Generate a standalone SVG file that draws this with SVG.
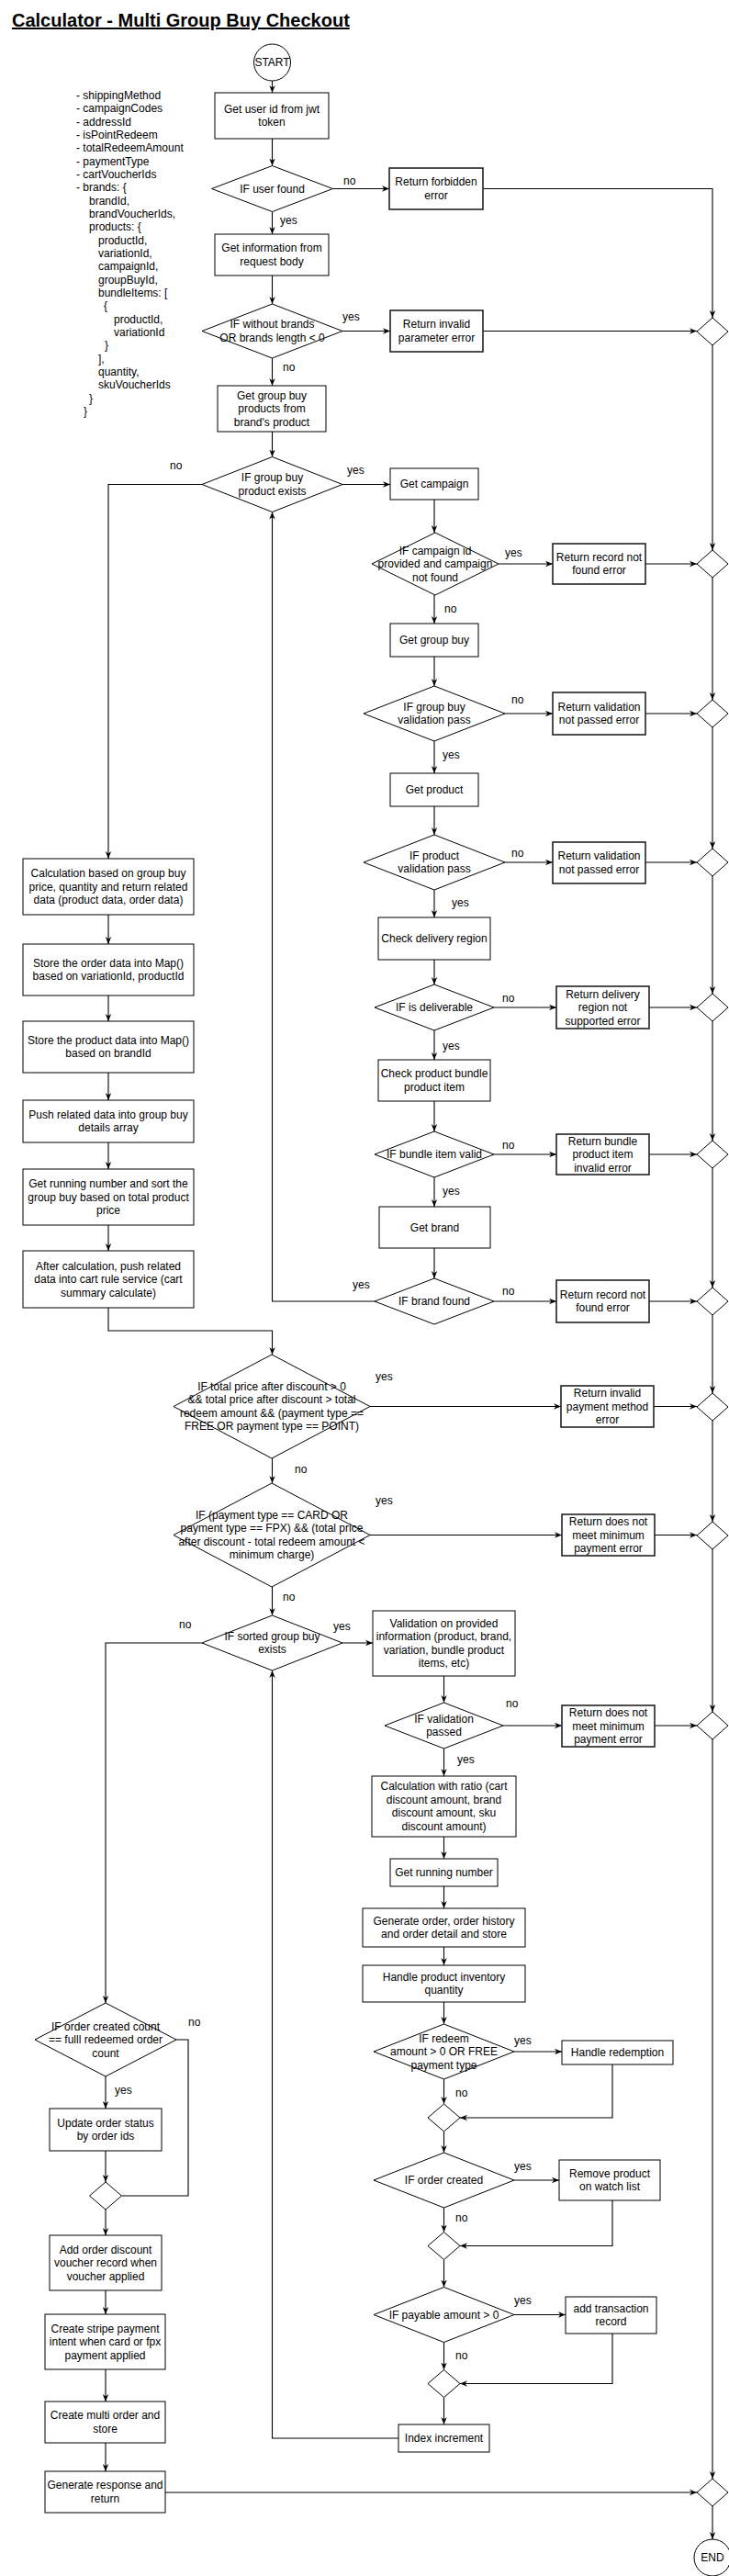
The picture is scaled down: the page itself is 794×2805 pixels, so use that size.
<svg xmlns="http://www.w3.org/2000/svg" width="794" height="2805" viewBox="0 0 794 2805">
<style>
.bg{fill:#fff}
.n rect,.n polygon,.n circle{fill:#fff;stroke:#000;stroke-width:1}
.e rect{stroke-width:1.6;stroke:#222}
text{font-family:"Liberation Sans",Arial,Helvetica,sans-serif;font-size:12px;fill:#000}
.c{text-anchor:middle}
.title{font-size:20px;font-weight:bold;text-decoration:underline}
.conn path{fill:none;stroke:#000;stroke-width:1.1}
.conn path.a{marker-end:url(#arr)}
</style>
<defs>
<marker id="arr" viewBox="0 0 10 10" refX="10" refY="5" markerWidth="8" markerHeight="8" orient="auto" markerUnits="userSpaceOnUse">
<path d="M0,1 L10,5 L0,9 L3,5 z" fill="#000"/>
</marker>
</defs>
<rect class="bg" x="0" y="0" width="794" height="2805"/>
<text class="title" x="13" y="29">Calculator - Multi Group Buy Checkout</text>

<g id="request-body">
<text x="83" y="108">- shippingMethod</text>
<text x="83" y="122.3">- campaignCodes</text>
<text x="83" y="136.7">- addressId</text>
<text x="83" y="151">- isPointRedeem</text>
<text x="83" y="165.3">- totalRedeemAmount</text>
<text x="83" y="179.7">- paymentType</text>
<text x="83" y="194">- cartVoucherIds</text>
<text x="83" y="208.3">- brands: {</text>
<text x="97" y="222.7">brandId,</text>
<text x="97" y="237">brandVoucherIds,</text>
<text x="97" y="251.3">products: {</text>
<text x="107" y="265.7">productId,</text>
<text x="107" y="280">variationId,</text>
<text x="107" y="294.3">campaignId,</text>
<text x="107" y="308.7">groupBuyId,</text>
<text x="107" y="323">bundleItems: [</text>
<text x="113" y="337.3">{</text>
<text x="124" y="351.7">productId,</text>
<text x="124" y="366">variationId</text>
<text x="114" y="380.3">}</text>
<text x="107" y="394.7">],</text>
<text x="107" y="409">quantity,</text>
<text x="107" y="423.3">skuVoucherIds</text>
<text x="97" y="437.7">}</text>
<text x="91" y="452">}</text>
</g>

<g class="conn" id="connectors">
<path class="a" d="M296.5,88 V101"/>
<path class="a" d="M296.5,151 V180.5"/>
<path class="a" d="M362.5,205.5 H424"/>
<path class="a" d="M296.5,230.5 V255"/>
<path class="a" d="M526,205.5 H776 V346"/>
<path class="a" d="M296.5,300 V331"/>
<path class="a" d="M373,360.5 H425"/>
<path class="a" d="M526,360.5 H759"/>
<path class="a" d="M296.5,390 V420"/>
<path class="a" d="M296.5,470 V497.5"/>
<path class="a" d="M220,527.5 H118 V935"/>
<path class="a" d="M373,527.5 H425"/>
<path class="a" d="M473,544 V580"/>
<path class="a" d="M543,614 H602"/>
<path class="a" d="M703,614 H759"/>
<path class="a" d="M776,376 V599"/>
<path class="a" d="M473,648 V679"/>
<path class="a" d="M473,715 V747"/>
<path class="a" d="M550,777 H602"/>
<path class="a" d="M703,777 H759"/>
<path class="a" d="M776,629 V762"/>
<path class="a" d="M473,807 V842"/>
<path class="a" d="M473,878 V909"/>
<path class="a" d="M550,939 H602"/>
<path class="a" d="M703,939 H759"/>
<path class="a" d="M776,792 V924"/>
<path class="a" d="M473,969 V999"/>
<path class="a" d="M473,1045 V1072"/>
<path class="a" d="M538,1097 H606"/>
<path class="a" d="M707,1097 H759"/>
<path class="a" d="M776,954 V1082"/>
<path class="a" d="M473,1122 V1154"/>
<path class="a" d="M473,1199 V1232"/>
<path class="a" d="M538,1257 H606"/>
<path class="a" d="M707,1257 H759"/>
<path class="a" d="M776,1112 V1242"/>
<path class="a" d="M473,1282 V1314"/>
<path class="a" d="M473,1359 V1392"/>
<path class="a" d="M538,1417 H606"/>
<path class="a" d="M707,1417 H759"/>
<path class="a" d="M776,1272 V1402"/>
<path class="a" d="M408,1417 H296.5 V557.5"/>
<path class="a" d="M118,996 V1028"/>
<path class="a" d="M118,1084 V1112"/>
<path class="a" d="M118,1168 V1198"/>
<path class="a" d="M118,1244 V1273"/>
<path class="a" d="M118,1334 V1362"/>
<path class="a" d="M118,1424 V1449 H296.5 V1475"/>
<path class="a" d="M403,1531.5 H611"/>
<path class="a" d="M712,1531.5 H759"/>
<path class="a" d="M776,1432 V1517"/>
<path class="a" d="M296.5,1588 V1615"/>
<path class="a" d="M403,1671.5 H612"/>
<path class="a" d="M713,1671.5 H759"/>
<path class="a" d="M776,1547 V1657"/>
<path class="a" d="M296.5,1728 V1759"/>
<path class="a" d="M373,1789 H406"/>
<path class="a" d="M220,1789 H115 V2181"/>
<path class="a" d="M483.5,1825 V1854"/>
<path class="a" d="M548,1879 H612"/>
<path class="a" d="M713,1879 H759"/>
<path class="a" d="M776,1687 V1864"/>
<path class="a" d="M483.5,1904 V1934"/>
<path class="a" d="M483.5,2000 V2024"/>
<path class="a" d="M483.5,2054 V2078"/>
<path class="a" d="M483.5,2120 V2140"/>
<path class="a" d="M483.5,2180 V2204"/>
<path class="a" d="M560,2234 H612"/>
<path class="a" d="M667,2248 V2306 H501"/>
<path class="a" d="M483.5,2264 V2291"/>
<path class="a" d="M483.5,2321 V2344"/>
<path class="a" d="M560,2374 H609"/>
<path class="a" d="M667,2396 V2445.5 H501"/>
<path class="a" d="M483.5,2404 V2430.5"/>
<path class="a" d="M483.5,2460.5 V2490.5"/>
<path class="a" d="M560,2520.5 H616"/>
<path class="a" d="M667,2541 V2595.5 H501"/>
<path class="a" d="M483.5,2550.5 V2580.5"/>
<path class="a" d="M483.5,2610.5 V2640"/>
<path class="a" d="M434,2655 H296.5 V1819"/>
<path class="a" d="M776,1894 V2699"/>
<path class="a" d="M115,2261 V2296"/>
<path class="a" d="M115,2342 V2376"/>
<path d="M192,2221 H205 V2391 H132.5"/>
<path class="a" d="M115,2406 V2434"/>
<path class="a" d="M115,2494 V2520"/>
<path class="a" d="M115,2580 V2615"/>
<path class="a" d="M115,2660 V2691"/>
<path class="a" d="M180,2714 H759"/>
<path class="a" d="M776,2729 V2765"/>
</g>

<g id="labels">
<text x="374" y="201">no</text>
<text x="305" y="244">yes</text>
<text x="373" y="349">yes</text>
<text x="308" y="404">no</text>
<text x="185" y="511">no</text>
<text x="378" y="516">yes</text>
<text x="550" y="606">yes</text>
<text x="484" y="667">no</text>
<text x="557" y="766">no</text>
<text x="482" y="826">yes</text>
<text x="557" y="933">no</text>
<text x="492" y="987">yes</text>
<text x="547" y="1091">no</text>
<text x="482" y="1143">yes</text>
<text x="547" y="1251">no</text>
<text x="482" y="1301">yes</text>
<text x="384" y="1403">yes</text>
<text x="547" y="1410">no</text>
<text x="409" y="1503">yes</text>
<text x="321" y="1604">no</text>
<text x="409" y="1638">yes</text>
<text x="308" y="1743">no</text>
<text x="195" y="1773">no</text>
<text x="363" y="1775">yes</text>
<text x="551" y="1859">no</text>
<text x="498" y="1920">yes</text>
<text x="205" y="2206">no</text>
<text x="125" y="2280">yes</text>
<text x="560" y="2226">yes</text>
<text x="496" y="2283">no</text>
<text x="560" y="2363">yes</text>
<text x="496" y="2419">no</text>
<text x="560" y="2509">yes</text>
<text x="496" y="2569">no</text>
</g>

<g id="start" class="n"><circle cx="296.5" cy="68" r="20"/><text class="c" x="296.5" y="72">START</text></g>
<g id="get-user" class="n"><rect x="234" y="101" width="124" height="50"/><text class="c" x="296" y="122.8">Get user id from jwt</text><text class="c" x="296" y="137.3">token</text></g>
<g id="if-user" class="n"><polygon points="296.5,180.5 362.5,205.5 296.5,230.5 230.5,205.5"/><text class="c" x="296.5" y="209.5">IF user found</text></g>
<g id="ret-forbidden" class="n e"><rect x="424" y="183" width="102" height="45"/><text class="c" x="475" y="202.3">Return forbidden</text><text class="c" x="475" y="216.8">error</text></g>
<g id="get-info" class="n"><rect x="234" y="255" width="124" height="45"/><text class="c" x="296" y="274.3">Get information from</text><text class="c" x="296" y="288.8">request body</text></g>
<g id="if-brands" class="n"><polygon points="296.5,331 373,360.5 296.5,390 220,360.5"/><text class="c" x="296.5" y="357.3">IF without brands</text><text class="c" x="296.5" y="371.8">OR brands length &lt; 0</text></g>
<g id="ret-param" class="n e"><rect x="425" y="338" width="101" height="45"/><text class="c" x="475.5" y="357.3">Return invalid</text><text class="c" x="475.5" y="371.8">parameter error</text></g>
<g id="get-gb-products" class="n"><rect x="237" y="420" width="118" height="50"/><text class="c" x="296" y="434.5">Get group buy</text><text class="c" x="296" y="449">products from</text><text class="c" x="296" y="463.5">brand's product</text></g>
<g id="if-gb-exists" class="n"><polygon points="296.5,497.5 373,527.5 296.5,557.5 220,527.5"/><text class="c" x="296.5" y="524.3">IF group buy</text><text class="c" x="296.5" y="538.8">product exists</text></g>
<g id="get-campaign" class="n"><rect x="425" y="510" width="96" height="34"/><text class="c" x="473" y="531">Get campaign</text></g>
<g id="if-campaign" class="n"><polygon points="474,580 543,614 474,648 405,614"/><text class="c" x="474" y="603.5">IF campaign id</text><text class="c" x="474" y="618">provided and campaign</text><text class="c" x="474" y="632.5">not found</text></g>
<g id="ret-record1" class="n e"><rect x="602" y="592" width="101" height="44"/><text class="c" x="652.5" y="610.8">Return record not</text><text class="c" x="652.5" y="625.3">found error</text></g>
<g id="get-group-buy" class="n"><rect x="425" y="679" width="96" height="36"/><text class="c" x="473" y="701">Get group buy</text></g>
<g id="if-gb-valid" class="n"><polygon points="473,747 550,777 473,807 396,777"/><text class="c" x="473" y="773.8">IF group buy</text><text class="c" x="473" y="788.3">validation pass</text></g>
<g id="ret-val1" class="n e"><rect x="602" y="754" width="101" height="46"/><text class="c" x="652.5" y="773.8">Return validation</text><text class="c" x="652.5" y="788.3">not passed error</text></g>
<g id="get-product" class="n"><rect x="425" y="842" width="96" height="36"/><text class="c" x="473" y="864">Get product</text></g>
<g id="if-prod-valid" class="n"><polygon points="473,909 550,939 473,969 396,939"/><text class="c" x="473" y="935.8">IF product</text><text class="c" x="473" y="950.3">validation pass</text></g>
<g id="ret-val2" class="n e"><rect x="602" y="917" width="101" height="45"/><text class="c" x="652.5" y="936.3">Return validation</text><text class="c" x="652.5" y="950.8">not passed error</text></g>
<g id="check-delivery" class="n"><rect x="412" y="999" width="122" height="46"/><text class="c" x="473" y="1026">Check delivery region</text></g>
<g id="if-deliverable" class="n"><polygon points="473,1072 538,1097 473,1122 408,1097"/><text class="c" x="473" y="1101">IF is deliverable</text></g>
<g id="ret-delivery" class="n e"><rect x="606" y="1074" width="101" height="46"/><text class="c" x="656.5" y="1086.5">Return delivery</text><text class="c" x="656.5" y="1101">region not</text><text class="c" x="656.5" y="1115.5">supported error</text></g>
<g id="check-bundle" class="n"><rect x="412" y="1154" width="122" height="45"/><text class="c" x="473" y="1173.3">Check product bundle</text><text class="c" x="473" y="1187.8">product item</text></g>
<g id="if-bundle" class="n"><polygon points="473,1232 538,1257 473,1282 408,1257"/><text class="c" x="473" y="1261">IF bundle item valid</text></g>
<g id="ret-bundle" class="n e"><rect x="606" y="1235" width="101" height="44"/><text class="c" x="656.5" y="1246.5">Return bundle</text><text class="c" x="656.5" y="1261">product item</text><text class="c" x="656.5" y="1275.5">invalid error</text></g>
<g id="get-brand" class="n"><rect x="413" y="1314" width="121" height="45"/><text class="c" x="473.5" y="1340.5">Get brand</text></g>
<g id="if-brand" class="n"><polygon points="473,1392 538,1417 473,1442 408,1417"/><text class="c" x="473" y="1421">IF brand found</text></g>
<g id="ret-record2" class="n e"><rect x="606" y="1394" width="101" height="46"/><text class="c" x="656.5" y="1413.8">Return record not</text><text class="c" x="656.5" y="1428.3">found error</text></g>

<g id="calc-gb" class="n"><rect x="25" y="935" width="186" height="61"/><text class="c" x="118" y="955">Calculation based on group buy</text><text class="c" x="118" y="969.5">price, quantity and return related</text><text class="c" x="118" y="984">data (product data, order data)</text></g>
<g id="store-order" class="n"><rect x="25" y="1028" width="186" height="56"/><text class="c" x="118" y="1052.8">Store the order data into Map()</text><text class="c" x="118" y="1067.3">based on variationId, productId</text></g>
<g id="store-product" class="n"><rect x="25" y="1112" width="186" height="56"/><text class="c" x="118" y="1136.8">Store the product data into Map()</text><text class="c" x="118" y="1151.3">based on brandId</text></g>
<g id="push-data" class="n"><rect x="25" y="1198" width="186" height="46"/><text class="c" x="118" y="1217.8">Push related data into group buy</text><text class="c" x="118" y="1232.3">details array</text></g>
<g id="running-sort" class="n"><rect x="25" y="1273" width="186" height="61"/><text class="c" x="118" y="1293">Get running number and sort the</text><text class="c" x="118" y="1307.5">group buy based on total product</text><text class="c" x="118" y="1322">price</text></g>
<g id="after-calc" class="n"><rect x="25" y="1362" width="186" height="62"/><text class="c" x="118" y="1382.5">After calculation, push related</text><text class="c" x="118" y="1397">data into cart rule service (cart</text><text class="c" x="118" y="1411.5">summary calculate)</text></g>

<g id="if-total" class="n"><polygon points="296,1475 403,1531.5 296,1588 189,1531.5"/><text class="c" x="296" y="1513.8">IF total price after discount &gt; 0</text><text class="c" x="296" y="1528.3">&amp;&amp; total price after discount &gt; total</text><text class="c" x="296" y="1542.8">redeem amount &amp;&amp; (payment type ==</text><text class="c" x="296" y="1557.3">FREE OR payment type == POINT)</text></g>
<g id="ret-paymethod" class="n e"><rect x="611" y="1509" width="101" height="45"/><text class="c" x="661.5" y="1521">Return invalid</text><text class="c" x="661.5" y="1535.5">payment method</text><text class="c" x="661.5" y="1550">error</text></g>
<g id="if-card" class="n"><polygon points="296,1615 403,1671.5 296,1728 189,1671.5"/><text class="c" x="296" y="1653.8">IF (payment type == CARD OR</text><text class="c" x="296" y="1668.3">payment type == FPX) &amp;&amp; (total price</text><text class="c" x="296" y="1682.8">after discount - total redeem amount &lt;</text><text class="c" x="296" y="1697.3">minimum charge)</text></g>
<g id="ret-minpay1" class="n e"><rect x="612" y="1649" width="101" height="45"/><text class="c" x="662.5" y="1661">Return does not</text><text class="c" x="662.5" y="1675.5">meet minimum</text><text class="c" x="662.5" y="1690">payment error</text></g>
<g id="if-sorted" class="n"><polygon points="296.5,1759 373,1789 296.5,1819 220,1789"/><text class="c" x="296.5" y="1785.8">IF sorted group buy</text><text class="c" x="296.5" y="1800.3">exists</text></g>
<g id="validation" class="n"><rect x="406" y="1754" width="155" height="71"/><text class="c" x="483.5" y="1771.8">Validation on provided</text><text class="c" x="483.5" y="1786.3">information (product, brand,</text><text class="c" x="483.5" y="1800.8">variation, bundle product</text><text class="c" x="483.5" y="1815.3">items, etc)</text></g>
<g id="if-val-passed" class="n"><polygon points="483.5,1854 548,1879 483.5,1904 419,1879"/><text class="c" x="483.5" y="1875.8">IF validation</text><text class="c" x="483.5" y="1890.3">passed</text></g>
<g id="ret-minpay2" class="n e"><rect x="612" y="1857" width="101" height="45"/><text class="c" x="662.5" y="1869">Return does not</text><text class="c" x="662.5" y="1883.5">meet minimum</text><text class="c" x="662.5" y="1898">payment error</text></g>
<g id="calc-ratio" class="n"><rect x="405" y="1934" width="157" height="66"/><text class="c" x="483.5" y="1949.3">Calculation with ratio (cart</text><text class="c" x="483.5" y="1963.8">discount amount, brand</text><text class="c" x="483.5" y="1978.3">discount amount, sku</text><text class="c" x="483.5" y="1992.8">discount amount)</text></g>
<g id="get-running" class="n"><rect x="425" y="2024" width="117" height="30"/><text class="c" x="483.5" y="2043">Get running number</text></g>
<g id="gen-order" class="n"><rect x="395" y="2078" width="177" height="42"/><text class="c" x="483.5" y="2095.8">Generate order, order history</text><text class="c" x="483.5" y="2110.3">and order detail and store</text></g>
<g id="inventory" class="n"><rect x="395" y="2140" width="177" height="40"/><text class="c" x="483.5" y="2156.8">Handle product inventory</text><text class="c" x="483.5" y="2171.3">quantity</text></g>
<g id="if-redeem" class="n"><polygon points="483.5,2204 560,2234 483.5,2264 407,2234"/><text class="c" x="483.5" y="2223.5">IF redeem</text><text class="c" x="483.5" y="2238">amount &gt; 0 OR FREE</text><text class="c" x="483.5" y="2252.5">payment type</text></g>
<g id="redemption" class="n"><rect x="612" y="2222" width="121" height="26"/><text class="c" x="672.5" y="2239">Handle redemption</text></g>
<g id="merge1" class="n"><polygon points="483.5,2291 501,2306 483.5,2321 466,2306"/></g>
<g id="if-order-created" class="n"><polygon points="483.5,2344 560,2374 483.5,2404 407,2374"/><text class="c" x="483.5" y="2378">IF order created</text></g>
<g id="watch-list" class="n"><rect x="609" y="2352" width="110" height="44"/><text class="c" x="664" y="2370.8">Remove product</text><text class="c" x="664" y="2385.3">on watch list</text></g>
<g id="merge2" class="n"><polygon points="483.5,2430.5 501,2445.5 483.5,2460.5 466,2445.5"/></g>
<g id="if-payable" class="n"><polygon points="483.5,2490.5 560,2520.5 483.5,2550.5 407,2520.5"/><text class="c" x="483.5" y="2524.5">IF payable amount &gt; 0</text></g>
<g id="transaction" class="n"><rect x="616" y="2501" width="99" height="40"/><text class="c" x="665.5" y="2517.8">add transaction</text><text class="c" x="665.5" y="2532.3">record</text></g>
<g id="merge3" class="n"><polygon points="483.5,2580.5 501,2595.5 483.5,2610.5 466,2595.5"/></g>
<g id="index-inc" class="n"><rect x="434" y="2640" width="99" height="30"/><text class="c" x="483.5" y="2659">Index increment</text></g>

<g id="if-count-full" class="n"><polygon points="115,2181 192,2221 115,2261 38,2221"/><text class="c" x="115" y="2210.5">IF order created count</text><text class="c" x="115" y="2225">== fulll redeemed order</text><text class="c" x="115" y="2239.5">count</text></g>
<g id="update-status" class="n"><rect x="54" y="2296" width="122" height="46"/><text class="c" x="115" y="2315.8">Update order status</text><text class="c" x="115" y="2330.3">by order ids</text></g>
<g id="merge4" class="n"><polygon points="115,2376 132.5,2391 115,2406 97.5,2391"/></g>
<g id="voucher-record" class="n"><rect x="54" y="2434" width="122" height="60"/><text class="c" x="115" y="2453.5">Add order discount</text><text class="c" x="115" y="2468">voucher record when</text><text class="c" x="115" y="2482.5">voucher applied</text></g>
<g id="stripe" class="n"><rect x="49" y="2520" width="131" height="60"/><text class="c" x="114.5" y="2539.5">Create stripe payment</text><text class="c" x="114.5" y="2554">intent when card or fpx</text><text class="c" x="114.5" y="2568.5">payment applied</text></g>
<g id="multi-order" class="n"><rect x="49" y="2615" width="131" height="45"/><text class="c" x="114.5" y="2634.3">Create multi order and</text><text class="c" x="114.5" y="2648.8">store</text></g>
<g id="response" class="n"><rect x="49" y="2691" width="131" height="45"/><text class="c" x="114.5" y="2710.3">Generate response and</text><text class="c" x="114.5" y="2724.8">return</text></g>

<g id="right-merges" class="n">
<polygon points="776,346 793,361 776,376 759,361"/>
<polygon points="776,599 793,614 776,629 759,614"/>
<polygon points="776,762 793,777 776,792 759,777"/>
<polygon points="776,924 793,939 776,954 759,939"/>
<polygon points="776,1082 793,1097 776,1112 759,1097"/>
<polygon points="776,1242 793,1257 776,1272 759,1257"/>
<polygon points="776,1402 793,1417 776,1432 759,1417"/>
<polygon points="776,1517 793,1532 776,1547 759,1532"/>
<polygon points="776,1657 793,1672 776,1687 759,1672"/>
<polygon points="776,1864 793,1879 776,1894 759,1879"/>
<polygon points="776,2699 793,2714 776,2729 759,2714"/>
</g>
<g id="end" class="n"><circle cx="776" cy="2785" r="20"/><text class="c" x="776" y="2789">END</text></g>
</svg>
